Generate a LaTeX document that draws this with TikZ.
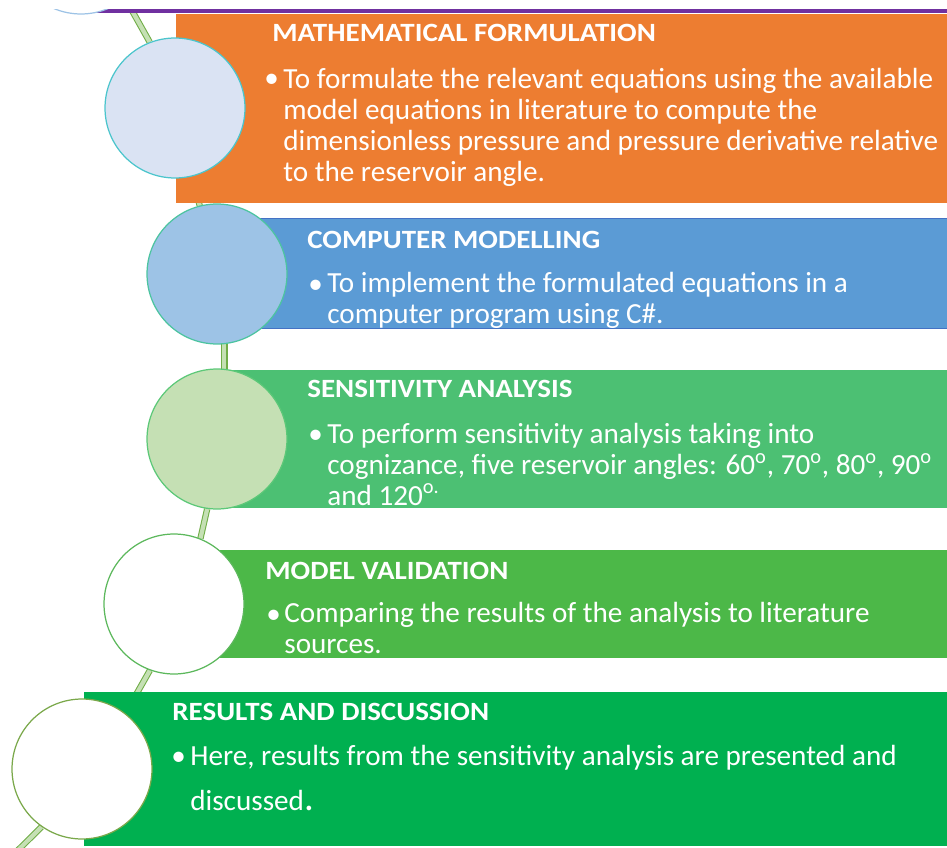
\documentclass[tikz,border=0pt]{standalone}
\usepackage{fontspec}
\setmainfont{Carlito}
\newfontfamily\headfont[FakeStretch=1.1]{Carlito}
\usepackage{xcolor}
\definecolor{cPurple}{HTML}{7030A0}
\definecolor{cOrange}{HTML}{ED7D31}
\definecolor{cBlue}{HTML}{5B9BD5}
\definecolor{cBlueEdge}{HTML}{4472C4}
\definecolor{cGreenA}{HTML}{4CC073}
\definecolor{cGreenB}{HTML}{4CB848}
\definecolor{cGreenC}{HTML}{00B050}
\definecolor{cFillA}{HTML}{DAE3F3}
\definecolor{cFillB}{HTML}{9DC3E6}
\definecolor{cFillC}{HTML}{C5E0B4}
\definecolor{cEdgeA}{HTML}{4BC5CC}
\definecolor{cEdgeB}{HTML}{4CC4A0}
\definecolor{cEdgeC}{HTML}{5CC878}
\definecolor{cEdgeD}{HTML}{5CB85C}
\definecolor{cEdgeE}{HTML}{7AA84A}
\definecolor{cLink}{HTML}{70AD47}
\definecolor{cLinkIn}{HTML}{C5E0B4}
\usepackage{tikz}
\usetikzlibrary{positioning}

% links go under the bands, bands under the circles
\pgfdeclarelayer{links}
\pgfdeclarelayer{bands}
\pgfsetlayers{links,bands,main}

\begin{document}
\begin{tikzpicture}[
    x=0.02cm, y=-0.02cm,
    stage/.style={circle, draw, line width=0.7pt, minimum size=2.8cm,
                  inner sep=0pt},
    band/.style={rectangle, anchor=north west, inner sep=0pt},
    title/.style={anchor=base west, inner sep=0pt, text=white,
                  font=\headfont\fontsize{15}{18}\selectfont\bfseries},
    bullet/.style={anchor=base west, inner sep=0pt, text=white,
                   font=\fontsize{16.6}{17.6}\selectfont},
    % body nodes sit on the baseline of their last line
    body/.style={anchor=base west, inner sep=0pt, text=white, align=left,
                 font=\fontsize{16.6}{17.6}\selectfont},
    link/.style={draw=cLink, line width=0.6pt, double=cLinkIn,
                 double distance=2.4pt},
    frame/.style={insert path={(0,10) rectangle (947,848)}}
]
\useasboundingbox (0,0) rectangle (947,848);
\clip[frame];

\node[stage, draw=cFillB, fill=white] (c0) at (81,-56) {};
\node[stage, draw=cEdgeA, fill=cFillA] (c1) at (175,108) {};
\node[stage, draw=cEdgeB, fill=cFillB] (c2) at (217,274) {};
\node[stage, draw=cEdgeC, fill=cFillC] (c3) at (217,439) {};
\node[stage, draw=cEdgeD, fill=white] (c4) at (174,604) {};
\node[stage, draw=cEdgeE, fill=white] (c5) at (82,769) {};
\coordinate (tail) at (-17,885);

\begin{pgfonlayer}{links}
\clip[frame];
\draw[link] (c0.-51) -- (c1.111);
\draw[link] (c1) -- (c2);
\draw[link] (c2.-84) -- (c3.84);
\draw[link] (c3.-98) -- (c4.68);
\draw[link] (c4.-110) -- (c5.52);
\draw[link] (c5.-125) -- (tail);
\end{pgfonlayer}

\begin{pgfonlayer}{bands}
\clip[frame];
\node[band, fill=cPurple, minimum width=17.58cm, minimum height=2.26cm] (box0) at (81,-100) {};
\node[band, fill=cOrange, minimum width=15.68cm, minimum height=3.78cm] (box1) at (176,14) {};
\node[band, fill=cBlue, draw=cBlueEdge, minimum width=14.86cm, minimum height=2.2cm] (box2) at (217,218) {};
\node[band, fill=cGreenA, minimum width=14.9cm, minimum height=2.76cm] (box3) at (215,370) {};
\node[band, fill=cGreenB, minimum width=15.72cm, minimum height=2.16cm] (box4) at (174,550) {};
\node[band, fill=cGreenC, minimum width=17.52cm, minimum height=3.08cm] (box5) at (84,692) {};
\end{pgfonlayer}

\node[title] (ttl1) at (272,42) {MATHEMATICAL FORMULATION};
\node[bullet] (bul1) at (264,88) {•};
\node[body] (txt1) at (283,181) {To formulate the relevant equations using the available\\
  model equations in literature to compute the\\
  dimensionless pressure and pressure derivative relative\\
  to the reservoir angle.};

\node[title] (ttl2) at (307,248) {COMPUTER MODELLING};
\node[bullet] (bul2) at (308,293) {•};
\node[body] (txt2) at (327,323) {To implement the formulated equations in a\\
  computer program using C\#.};

\node[title] (ttl3) at (307,397) {SENSITIVITY ANALYSIS};
\node[bullet] (bul3) at (308,443) {•};
\node[body] (txt3) at (327,505) {To perform sensitivity analysis taking into\\
  cognizance, five reservoir angles: 60\textsuperscript{o}, 70\textsuperscript{o}, 80\textsuperscript{o}, 90\textsuperscript{o}\\
  and 120\textsuperscript{o.}};

\node[title] (ttl4) at (265,579) {MODEL VALIDATION};
\node[bullet] (bul4) at (266,623) {•};
\node[body] (txt4) at (284,653) {Comparing the results of the analysis to literature\\
  sources.};

\node[title] (ttl5) at (172,720) {RESULTS AND DISCUSSION};
\node[bullet] (bul5) at (171,765) {•};
\node[body, font=\fontsize{16.6}{25.6}\selectfont] (txt5) at (190,810) {Here, results from the sensitivity analysis are presented and\\
  discussed{\fontsize{22}{22}\selectfont.}};
\end{tikzpicture}
\end{document}
